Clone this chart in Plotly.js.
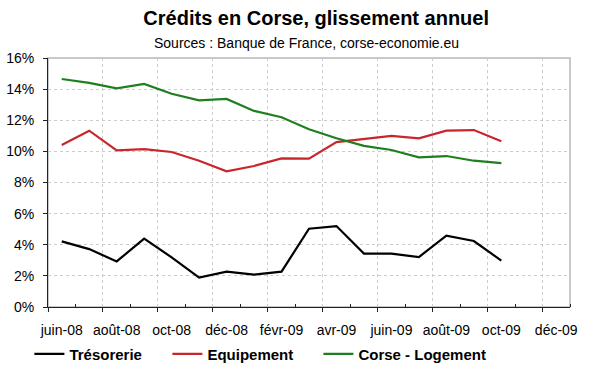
<!DOCTYPE html>
<html>
<head>
<meta charset="utf-8">
<script src="https://cdn.plot.ly/plotly-3.0.1.min.js"></script>
<style>html,body{margin:0;padding:0;background:#fff;}#chart{width:600px;height:372px;}</style>
</head>
<body>
<div id="chart"></div>
<script>
const months = ["juin-08","juil-08","août-08","sept-08","oct-08","nov-08","déc-08","janv-09","févr-09","mars-09","avr-09","mai-09","juin-09","juil-09","août-09","sept-09","oct-09","nov-09","déc-09"];
const dataMonths = months.slice(0, 17);
const tresorerie = [4.22,3.72,2.93,4.39,3.19,1.89,2.27,2.08,2.27,5.03,5.20,3.43,3.43,3.21,4.58,4.24,2.98];
const equipement = [10.41,11.33,10.07,10.15,9.96,9.40,8.72,9.06,9.55,9.53,10.60,10.80,10.99,10.84,11.33,11.37,10.65];
const logement = [14.65,14.40,14.05,14.33,13.70,13.28,13.37,12.60,12.19,11.42,10.84,10.35,10.09,9.62,9.70,9.40,9.25];

const FONT = "Liberation Sans, Arial, sans-serif";
const traces = [
  {x: dataMonths, y: tresorerie, name: "Trésorerie", type: "scatter", mode: "lines",
   line: {color: "#000000", width: 2.2}, legendwidth: 93},
  {x: dataMonths, y: equipement, name: "Equipement", type: "scatter", mode: "lines",
   line: {color: "#c8262b", width: 2.2}, legendwidth: 106},
  {x: dataMonths, y: logement, name: "Corse - Logement", type: "scatter", mode: "lines",
   line: {color: "#1f7f1f", width: 2.2}},
  {x: [null], y: [null], xaxis: "x2", yaxis: "y", showlegend: false, hoverinfo: "skip", mode: "lines"}
];

const layout = {
  width: 600, height: 372,
  margin: {l: 48, r: 30, t: 58, b: 65, autoexpand: false},
  paper_bgcolor: "#ffffff", plot_bgcolor: "#ffffff",
  font: {family: FONT, color: "#000", size: 14},
  title: {text: "<b>Crédits en Corse, glissement annuel</b>", font: {family: FONT, size: 20, color: "#000"},
          x: 0.527, xanchor: "center", y: 0.952, yanchor: "middle"},
  annotations: [{text: "Sources : Banque de France, corse-economie.eu", xref: "paper", yref: "paper",
                 x: 0.496, y: 1.06, xanchor: "center", yanchor: "middle", showarrow: false,
                 font: {family: FONT, size: 14, color: "#000"}}],
  xaxis: {type: "category", categoryarray: months, categoryorder: "array", range: [-0.5, 18.5],
          tickmode: "linear", tick0: 0, dtick: 2, ticks: "", showgrid: false, zeroline: false,
          showline: true, linecolor: "#222", linewidth: 1, ticklabelstandoff: 10,
          tickfont: {family: FONT, size: 14, color: "#000"}, fixedrange: true},
  xaxis2: {overlaying: "x", anchor: "y", side: "bottom", range: [-0.5, 18.5], type: "linear",
           tickmode: "linear", tick0: -0.5, dtick: 2, ticks: "outside", ticklen: 4, tickcolor: "#222",
           showticklabels: false, showgrid: true, gridcolor: "#cccccc", griddash: "dot", gridwidth: 1,
           zeroline: false, showline: false,
           minor: {ticks: "inside", ticklen: 3, tick0: 0.5, dtick: 2, tickcolor: "#222", showgrid: false}},
  yaxis: {range: [0, 16], tickmode: "linear", tick0: 0, dtick: 2, ticksuffix: "%",
          ticks: "outside", ticklen: 4, tickcolor: "#222", showline: true, linecolor: "#222", linewidth: 1,
          showgrid: true, gridcolor: "#cccccc", griddash: "dot", gridwidth: 1, zeroline: false,
          ticklabelstandoff: 6, tickfont: {family: FONT, size: 14, color: "#000"}},
  shapes: [{type: "rect", xref: "paper", yref: "paper", x0: 0, x1: 1, y0: 0, y1: 1,
            line: {color: "#b8b8b8", width: 1.5}, layer: "below"}],
  legend: {orientation: "h", xref: "container", yref: "container", x: 0.049, xanchor: "left",
           y: 0.048, yanchor: "middle",
           font: {family: FONT, size: 15, color: "#000", weight: "bold"}, bgcolor: "rgba(0,0,0,0)",
           itemwidth: 30, tracegroupgap: 0},
  showlegend: true
};

Plotly.newPlot("chart", traces, layout, {displayModeBar: false, staticPlot: true});
</script>
</body>
</html>
